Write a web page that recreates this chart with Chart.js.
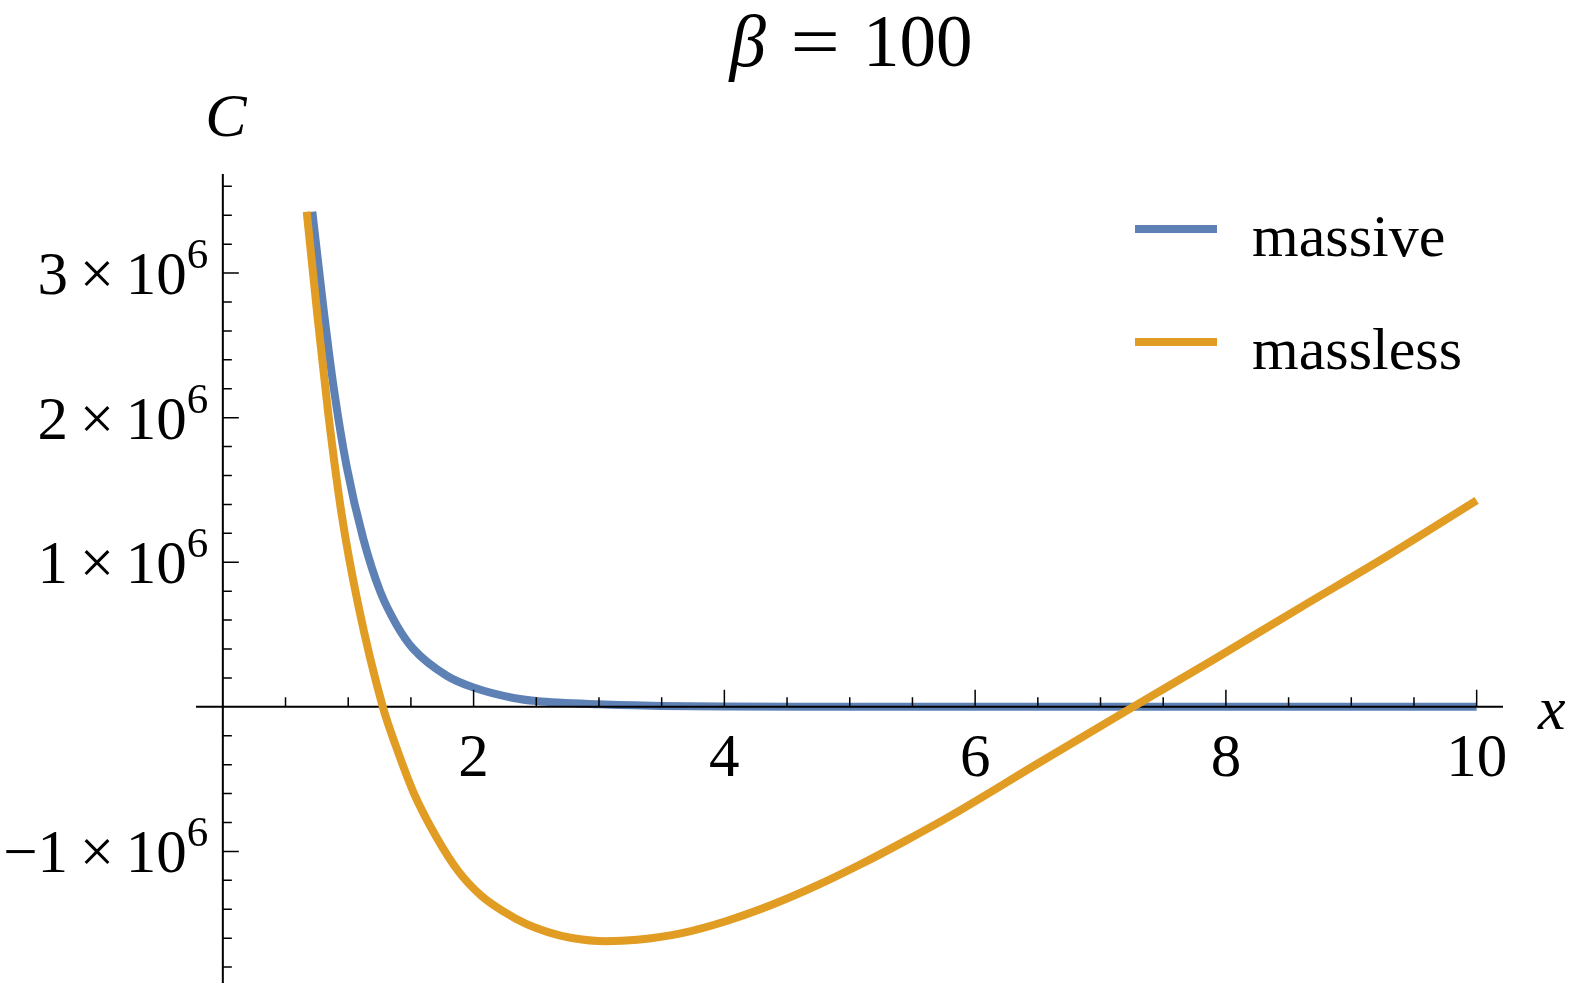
<!DOCTYPE html>
<html>
<head>
<meta charset="utf-8">
<title>C vs x, beta = 100</title>
<script src="https://cdn.jsdelivr.net/npm/chart.js@4.4.1/dist/chart.umd.min.js"></script>
<style>
  html, body { margin: 0; padding: 0; background: #fff; }
  #wrap { position: relative; width: 1578px; height: 995px; }
</style>
</head>
<body>
<div id="wrap"><canvas id="chartC"></canvas></div>
<script>
// values, C in units of 1e6
const massiveX = [0.714, 0.754, 0.802, 0.882, 0.988, 1.121, 1.254, 1.387, 1.52, 1.786, 2.0, 2.318, 2.5, 3.0, 3.5, 4, 5, 6, 7, 8, 9, 10];
const massiveC = [3.424, 3.12, 2.76, 2.22, 1.66, 1.16, 0.80, 0.565, 0.40, 0.215, 0.133, 0.061, 0.040, 0.017, 0.006, 0.002, 0.0005, 0, 0, 0, 0, 0];

const masslessX = [0.669, 0.755, 0.842, 0.948, 1.081, 1.276, 1.383, 1.525, 1.703, 1.881, 2.059, 2.237, 2.415, 2.593, 2.772, 3.056, 3.305, 3.662, 4.018, 4.374, 4.73, 5.087, 5.443, 5.8, 6.5, 7.26, 7.9, 8.6, 9.3, 10.0];
const masslessC = [3.424, 2.70, 2.02, 1.33, 0.70, 0, -0.278, -0.60, -0.90, -1.14, -1.305, -1.415, -1.50, -1.558, -1.597, -1.621, -1.611, -1.565, -1.481, -1.371, -1.239, -1.089, -0.927, -0.756, -0.392, 0, 0.326, 0.69, 1.05, 1.428];

const seriesNames = ['massive', 'massless'];
const seriesColors = ['#5E81B5', '#E19C24'];

const xMajorTicks = [2, 4, 6, 8, 10];
const xMinorTicks = [0.5, 1, 1.5, 2.5, 3, 3.5, 4.5, 5, 5.5, 6.5, 7, 7.5, 8.5, 9, 9.5];
const yMajorTicks = [-1, 1, 2, 3];
const yMajorLabels = ['\u22121', '1', '2', '3'];
const yMinorTicks = [-1.8, -1.6, -1.4, -1.2, -0.8, -0.6, -0.4, -0.2, 0.2, 0.4, 0.6, 0.8,
  1.2, 1.4, 1.6, 1.8, 2.2, 2.4, 2.6, 2.8, 3.2, 3.4, 3.6];
const yScaleFactor = 1e6;

const toPoints = (xs, ys) => xs.map((x, i) => ({ x: x, y: ys[i] * yScaleFactor }));

const SERIF = '"Liberation Serif", "Times New Roman", serif';

function drawAxes(chart) {
  const ctx = chart.ctx;
  const xs = chart.scales.x, ys = chart.scales.y;
  const x0 = xs.getPixelForValue(0), y0 = ys.getPixelForValue(0);
  ctx.save();
  ctx.strokeStyle = '#000';
  ctx.lineWidth = 2;
  ctx.beginPath();
  ctx.moveTo(xs.left, y0); ctx.lineTo(xs.right, y0);
  ctx.moveTo(x0, ys.top); ctx.lineTo(x0, ys.bottom);
  ctx.stroke();
  ctx.lineWidth = 1.5;
  ctx.beginPath();
  xMajorTicks.forEach(v => { const p = xs.getPixelForValue(v); ctx.moveTo(p, y0); ctx.lineTo(p, y0 - 17); });
  xMinorTicks.forEach(v => { const p = xs.getPixelForValue(v); ctx.moveTo(p, y0); ctx.lineTo(p, y0 - 9.5); });
  yMajorTicks.forEach(v => { const p = ys.getPixelForValue(v * yScaleFactor); ctx.moveTo(x0, p); ctx.lineTo(x0 + 16, p); });
  yMinorTicks.forEach(v => { const p = ys.getPixelForValue(v * yScaleFactor); ctx.moveTo(x0, p); ctx.lineTo(x0 + 9, p); });
  ctx.stroke();
  ctx.restore();
}

function drawTexts(chart) {
  const ctx = chart.ctx;
  const xs = chart.scales.x, ys = chart.scales.y;
  const x0 = xs.getPixelForValue(0), y0 = ys.getPixelForValue(0);
  ctx.save();
  ctx.fillStyle = '#000';
  ctx.textBaseline = 'alphabetic';

  // x tick labels
  ctx.font = '61px ' + SERIF;
  ctx.textAlign = 'center';
  xMajorTicks.forEach(v => ctx.fillText(String(v), xs.getPixelForValue(v), y0 + 69));

  // y tick labels  a × 10^6, pieces laid out from the right
  const gap = 11.7;
  yMajorTicks.forEach((v, i) => {
    const p = ys.getPixelForValue(v * yScaleFactor);
    let right = x0 - 14.5;
    ctx.textAlign = 'right';
    ctx.font = '43px ' + SERIF;
    ctx.fillText('6', right, p - 5);
    right -= ctx.measureText('6').width;
    ctx.font = '61px ' + SERIF;
    ctx.fillText('10', right, p + 21);
    right -= ctx.measureText('10').width + gap;
    ctx.fillText('\u00d7', right, p + 21);
    right -= ctx.measureText('\u00d7').width + gap;
    ctx.fillText(yMajorLabels[i], right, p + 21);
  });

  // axis labels
  ctx.font = 'italic 62px ' + SERIF;
  ctx.textAlign = 'center';
  ctx.fillText('C', x0 + 3, 136);
  ctx.textAlign = 'left';
  ctx.fillText('x', xs.right + 35, y0 + 22);

  // title  β = 100
  const cx = (xs.left + xs.right) / 2;
  ctx.textAlign = 'left';
  ctx.font = 'italic 73px ' + SERIF;
  ctx.fillText('\u03b2', cx - 120, 66);
  ctx.font = '73px ' + SERIF;
  ctx.save();
  ctx.translate(cx - 59, 66);
  ctx.scale(1.2, 1);
  ctx.fillText('=', 0, 0);
  ctx.restore();
  ctx.fillText('100', cx + 13.5, 66);

  // legend
  const legendY = [229, 342];
  seriesNames.forEach((name, i) => {
    ctx.strokeStyle = seriesColors[i];
    ctx.lineWidth = 8;
    ctx.beginPath();
    ctx.moveTo(1135, legendY[i]); ctx.lineTo(1217, legendY[i]);
    ctx.stroke();
    ctx.font = '60px ' + SERIF;
    ctx.textAlign = 'left';
    ctx.fillText(name, 1252, legendY[i] + 26.5);
  });
  ctx.restore();
}

const mathAxes = {
  id: 'mathAxes',
  afterDatasetDraw(chart, args) {
    if (args.index === 0) drawAxes(chart);
  },
  afterDraw(chart) {
    drawTexts(chart);
  }
};

new Chart(document.getElementById('chartC'), {
  type: 'scatter',
  data: {
    datasets: [
      {
        label: seriesNames[0],
        data: toPoints(massiveX, massiveC),
        borderColor: seriesColors[0],
        borderWidth: 8,
        showLine: true,
        pointRadius: 0,
        cubicInterpolationMode: 'monotone',
        order: 1
      },
      {
        label: seriesNames[1],
        data: toPoints(masslessX, masslessC),
        borderColor: seriesColors[1],
        borderWidth: 8,
        showLine: true,
        pointRadius: 0,
        cubicInterpolationMode: 'monotone',
        order: 0
      }
    ]
  },
  options: {
    responsive: true,
    maintainAspectRatio: false,
    devicePixelRatio: 1,
    animation: false,
    events: [],
    layout: { padding: { left: 196, right: 75, top: 174, bottom: 12 } },
    plugins: { legend: { display: false }, tooltip: { enabled: false }, title: { display: false } },
    scales: {
      x: { type: 'linear', min: -0.214, max: 10.21, display: false },
      y: { type: 'linear', min: -1.91e6, max: 3.685e6, display: false }
    }
  },
  plugins: [mathAxes]
});
</script>
</body>
</html>
